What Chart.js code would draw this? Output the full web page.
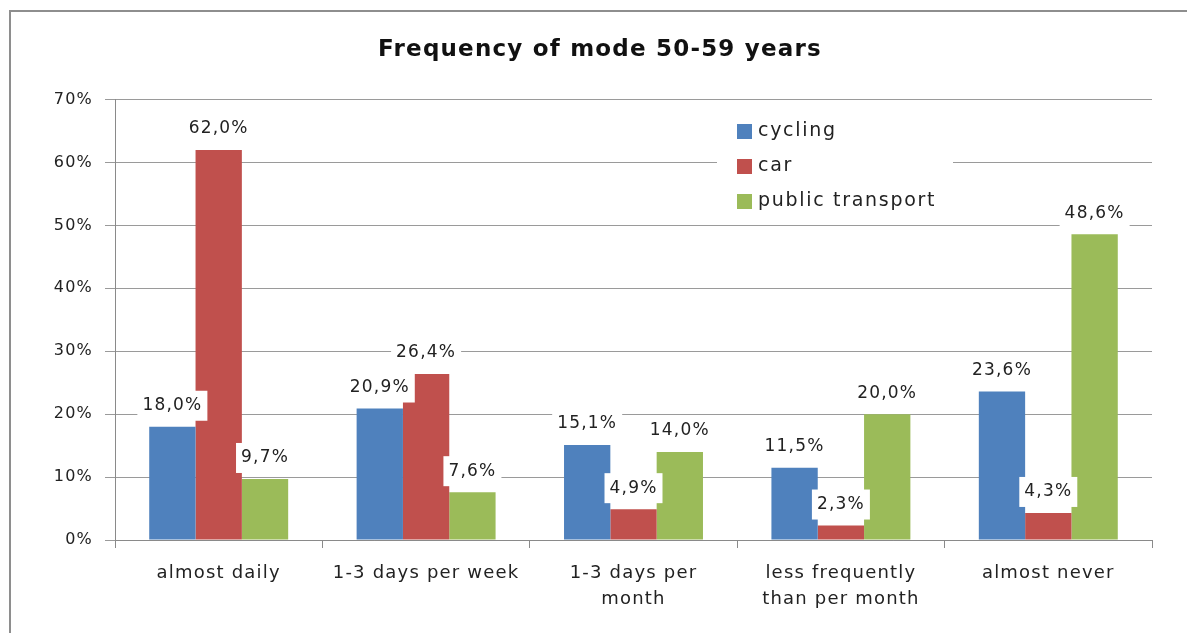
<!DOCTYPE html>
<html>
<head>
<meta charset="utf-8">
<script src="https://cdn.jsdelivr.net/npm/chart.js@4/dist/chart.umd.min.js"></script>
<style>
    html, body { margin: 0; padding: 0; background: #fff; overflow: hidden; }
    #wrap { position: relative; width: 1187px; height: 633px; overflow: hidden; }
    #frame { position: absolute; left: 9px; top: 10px; width: 1250px; height: 700px; border-left: 2px solid #8e8e8e; border-top: 2px solid #8e8e8e; box-sizing: border-box; }
    canvas { position: absolute; left: 0; top: 0; }
</style>
</head>
<body>
<div id="wrap">
    <div id="frame"></div>
    <canvas id="chart" width="1187" height="633"></canvas>
</div>
<script>
// Chart data
const categories = [
    'almost daily',
    '1-3 days per week',
    ['1-3 days per', 'month'],
    ['less frequently', 'than per month'],
    'almost never'
];
const seriesNames = ['cycling', 'car', 'public transport'];
const cycling = [18.0, 20.9, 15.1, 11.5, 23.6];
const car = [62.0, 26.4, 4.9, 2.3, 4.3];
const publicTransport = [9.7, 7.6, 14.0, 20.0, 48.6];
const yTicks = [0, 10, 20, 30, 40, 50, 60, 70];

const colors = ['#4f81bd', '#c0504d', '#9bbb59'];
const FONT = '"DejaVu Sans", sans-serif';

function fmt(v) {
    return v.toFixed(1).replace('.', ',') + '%';
}

// wider text spacing, like the original rendering
const spacing = {
    id: 'spacing',
    beforeDraw(chart) {
        chart.ctx.letterSpacing = '1.2px';
    },
    afterDraw(chart) {
        // keep the right edge clean, the frame is open on that side
        const ctx = chart.ctx;
        ctx.save();
        ctx.fillStyle = '#fff';
        ctx.fillRect(1170, 13, 17, 620);
        ctx.restore();
    }
};

// Value labels on white boxes above the bars
const valueLabels = {
    id: 'valueLabels',
    afterDatasetsDraw(chart) {
        const ctx = chart.ctx;
        ctx.save();
        ctx.font = '17px ' + FONT;
        ctx.textAlign = 'center';
        ctx.textBaseline = 'middle';
        chart.data.datasets.forEach((ds, i) => {
            const meta = chart.getDatasetMeta(i);
            meta.data.forEach((bar, j) => {
                const txt = fmt(ds.data[j]);
                const w = ctx.measureText(txt).width + 10;
                const h = 30;
                const cy = bar.y - 21;
                ctx.fillStyle = '#fff';
                ctx.fillRect(bar.x - w / 2, cy - h / 2, w, h);
                ctx.fillStyle = '#222';
                ctx.fillText(txt, bar.x, cy);
            });
        });
        ctx.restore();
    }
};

// Legend box inside the plot area
const boxLegend = {
    id: 'boxLegend',
    afterDraw(chart) {
        const ctx = chart.ctx;
        const left = 717, top = 109;
        ctx.save();
        ctx.fillStyle = '#fff';
        ctx.fillRect(left, top, 236, 112);
        ctx.font = '19px ' + FONT;
        ctx.letterSpacing = '1.7px';
        ctx.textBaseline = 'middle';
        ctx.textAlign = 'left';
        chart.data.datasets.forEach((ds, i) => {
            const cy = 131 + i * 35;
            ctx.fillStyle = ds.backgroundColor;
            ctx.fillRect(737, cy - 7, 15, 15);
            ctx.fillStyle = '#222';
            ctx.fillText(ds.label, 758, cy);
        });
        ctx.restore();
    }
};

new Chart(document.getElementById('chart'), {
    type: 'bar',
    data: {
        labels: categories,
        datasets: [
            { label: seriesNames[0], data: cycling, backgroundColor: colors[0] },
            { label: seriesNames[1], data: car, backgroundColor: colors[1] },
            { label: seriesNames[2], data: publicTransport, backgroundColor: colors[2] }
        ]
    },
    options: {
        responsive: false,
        animation: false,
        datasets: {
            bar: { categoryPercentage: 0.67, barPercentage: 1.0 }
        },
        layout: { padding: { left: 48, right: 35, top: 14, bottom: 0 } },
        plugins: {
            legend: { display: false },
            tooltip: { enabled: false },
            title: {
                display: true,
                text: 'Frequency of mode 50-59 years',
                color: '#111',
                font: { family: FONT, size: 23, weight: 'bold' },
                padding: { top: 22, bottom: 36 }
            }
        },
        scales: {
            y: {
                min: 0,
                max: 70,
                afterBuildTicks(scale) {
                    scale.ticks = yTicks.map(v => ({ value: v }));
                },
                afterFit(scale) { scale.width = 67; },
                ticks: {
                    color: '#222',
                    padding: 12,
                    font: { family: FONT, size: 16 },
                    callback: v => v + '%'
                },
                grid: { color: '#9a9a9a', lineWidth: 1, tickLength: 10 },
                border: { color: '#8a8a8a', width: 1 }
            },
            x: {
                afterFit(scale) { scale.height = 93; },
                ticks: {
                    color: '#222',
                    padding: 12,
                    maxRotation: 0,
                    font: { family: FONT, size: 18, lineHeight: 1.45 }
                },
                grid: { drawOnChartArea: false, color: '#8a8a8a', tickLength: 8 },
                border: { color: '#8a8a8a', width: 1 }
            }
        }
    },
    plugins: [spacing, valueLabels, boxLegend]
});
</script>
</body>
</html>
